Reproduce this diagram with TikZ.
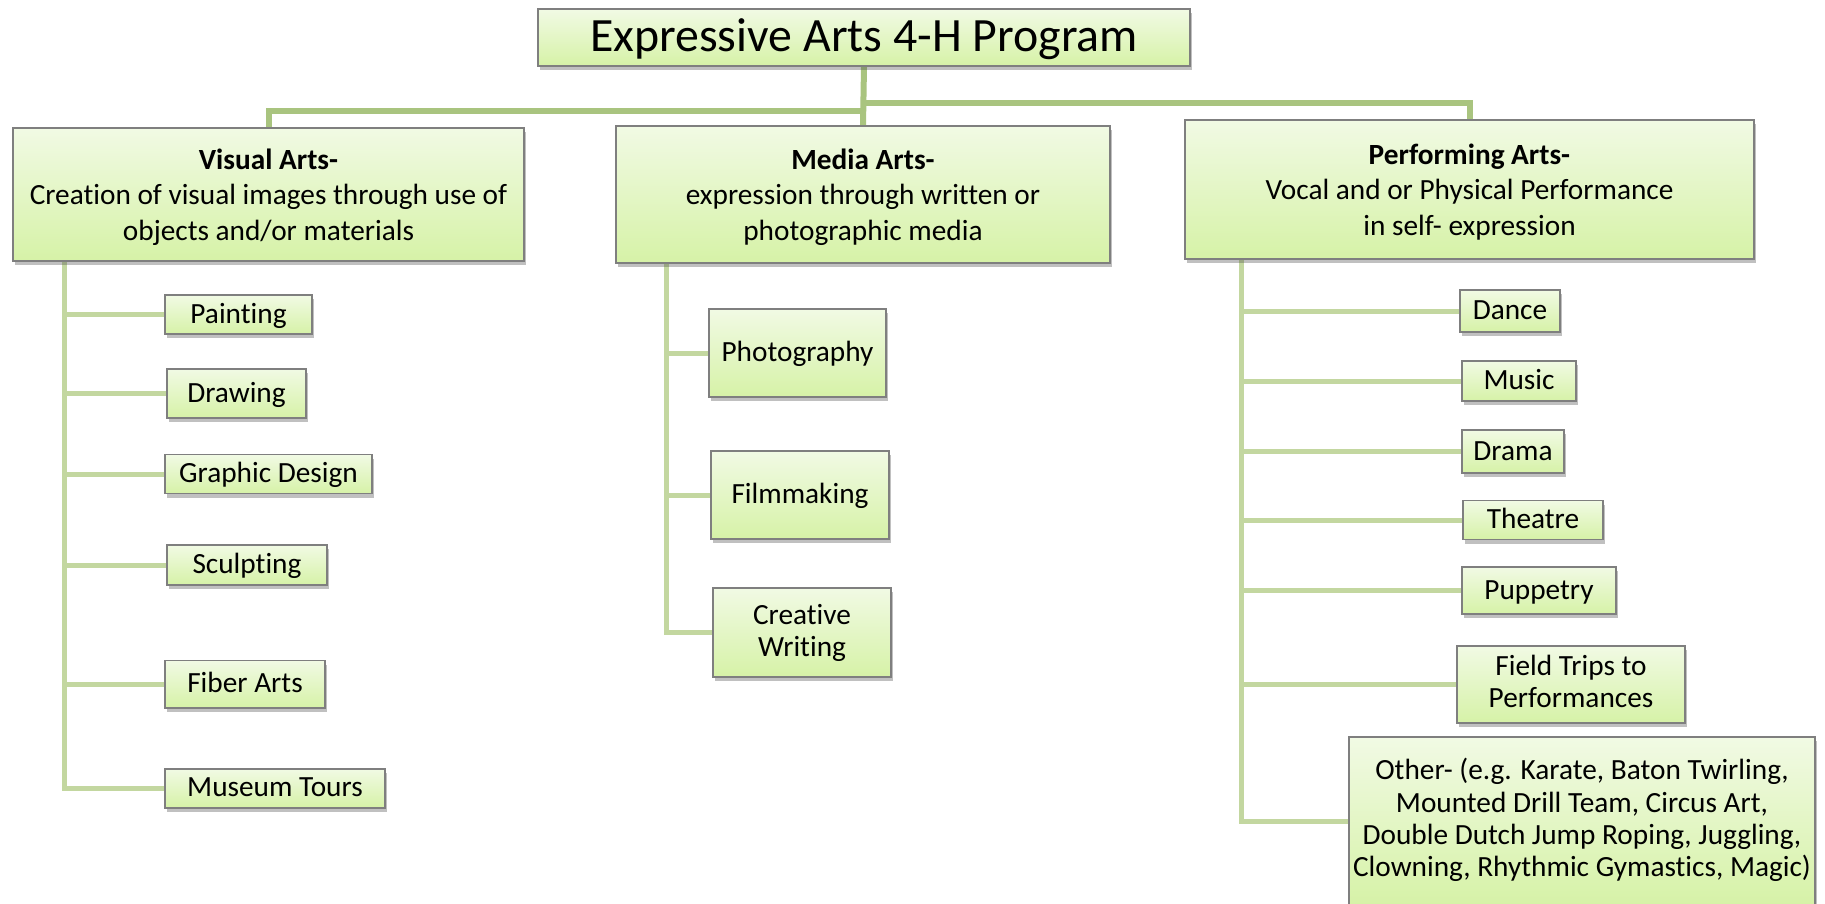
\documentclass[tikz,border=0pt]{standalone}
\usepackage{fontspec}
\setmainfont[Ligatures={TeX,NoCommon}]{Carlito}
\usetikzlibrary{shadows,backgrounds}
\definecolor{boxtop}{HTML}{F1FAE4}
\definecolor{boxbot}{HTML}{D6F2A7}
\definecolor{boxline}{HTML}{7F7F7F}
\definecolor{barcol}{HTML}{A9C47F}
\definecolor{twigcol}{HTML}{C3D7A0}
\tikzset{
box/.style={draw=boxline,line width=1.5pt,top color=boxtop,bottom color=boxbot,align=center,inner sep=4pt,
 drop shadow={shadow xshift=2pt,shadow yshift=-4pt,opacity=0.35,fill=black!70}},
head/.style={box,font=\fontsize{29.3}{35.5}\selectfont,text height=99pt,text depth=8pt},
leaf/.style={box,font=\fontsize{29.3}{32}\selectfont,text height=24pt,text depth=7pt},
bar/.style={barcol,line width=6pt},
twig/.style={twigcol,line width=5pt}
}
\begin{document}
\begin{tikzpicture}[x=1pt,y=-1pt]
\useasboundingbox (0,0) rectangle (1825,903);
\node[box,font=\fontsize{47.8}{58}\selectfont,text height=38pt,text depth=10.6pt,minimum width=652pt,minimum height=55pt] (title) at (864,37.5) {Expressive Arts 4-H Program};

\node[head,minimum width=511pt,minimum height=133pt] (visual) at (268.5,194.5) {\textbf{Visual Arts-}\\Creation of visual images through use of\\objects and/or materials};
\node[head,minimum width=494pt,minimum height=137pt] (media) at (863,194.5) {\textbf{Media Arts-}\\expression through written or\\photographic media};
\node[head,minimum width=569pt,minimum height=139pt] (perform) at (1469.5,189.5) {\textbf{Performing Arts-}\\Vocal and or Physical Performance\\in self- expression};

\node[leaf,minimum width=147pt,minimum height=36pt] (painting) at (238.5,314.6) {Painting};
\node[leaf,minimum width=139pt,minimum height=49pt] (drawing) at (236.5,393.5) {Drawing};
\node[leaf,minimum width=207pt,minimum height=37pt] (graphic) at (268.5,474.2) {Graphic Design};
\node[leaf,minimum width=160pt,minimum height=40pt] (sculpt) at (247,565) {Sculpting};
\node[leaf,minimum width=160pt,minimum height=47.5pt] (fiber) at (245,684.3) {Fiber Arts};
\node[leaf,minimum width=220pt,minimum height=38.5pt] (museum) at (275,788.3) {Museum Tours};

\node[leaf,minimum width=177pt,minimum height=88pt] (photo) at (797.5,353) {Photography};
\node[leaf,minimum width=178pt,minimum height=88pt] (film) at (800,495) {Filmmaking};
\node[leaf,text height=54pt,minimum width=178pt,minimum height=89pt] (writing) at (802,632.5) {Creative\\Writing};

\node[leaf,minimum width=100pt,minimum height=42pt] (dance) at (1510,311) {Dance};
\node[leaf,minimum width=114pt,minimum height=40pt] (music) at (1519,381) {Music};
\node[leaf,minimum width=102pt,minimum height=43pt] (drama) at (1513,451.5) {Drama};
\node[leaf,minimum width=140pt,minimum height=38pt] (theatre) at (1533,520) {Theatre};
\node[leaf,minimum width=154pt,minimum height=47pt] (puppet) at (1539,590.5) {Puppetry};
\node[leaf,text height=53.5pt,minimum width=228pt,minimum height=77pt] (trips) at (1571,684.5) {Field Trips to\\Performances};
\node[leaf,font=\fontsize{29.3}{32.2}\selectfont,text height=117pt,minimum width=464pt,minimum height=169pt] (other) at (1582,821.5) {Other- (e.g. Karate, Baton Twirling,\\Mounted Drill Team, Circus Art,\\Double Dutch Jump Roping, Juggling,\\Clowning, Rhythmic Gymastics, Magic)};

\coordinate (vstem) at (64,261);
\coordinate (mstem) at (666,263);
\coordinate (pstem) at (1241,259);

\begin{scope}[on background layer]
\fill[white] (0,0) rectangle (1825,903);
\draw[bar] (title.south) -- (media.north);
\draw[bar] (title.south) ++(0,44) -| (visual.north);
\draw[bar] (title.south) ++(0,36.5) -| (perform.north);

\draw[twig] (vstem) |- (painting.west);
\draw[twig] (vstem) |- (drawing.west);
\draw[twig] (vstem) |- (graphic.west);
\draw[twig] (vstem) |- (sculpt.west);
\draw[twig] (vstem) |- (fiber.west);
\draw[twig] (vstem) |- (museum.west);

\draw[twig] (mstem) |- (photo.west);
\draw[twig] (mstem) |- (film.west);
\draw[twig] (mstem) |- (writing.west);

\draw[twig] (pstem) |- (dance.west);
\draw[twig] (pstem) |- (music.west);
\draw[twig] (pstem) |- (drama.west);
\draw[twig] (pstem) |- (theatre.west);
\draw[twig] (pstem) |- (puppet.west);
\draw[twig] (pstem) |- (trips.west);
\draw[twig] (pstem) |- (other.west);
\end{scope}
\end{tikzpicture}
\end{document}
